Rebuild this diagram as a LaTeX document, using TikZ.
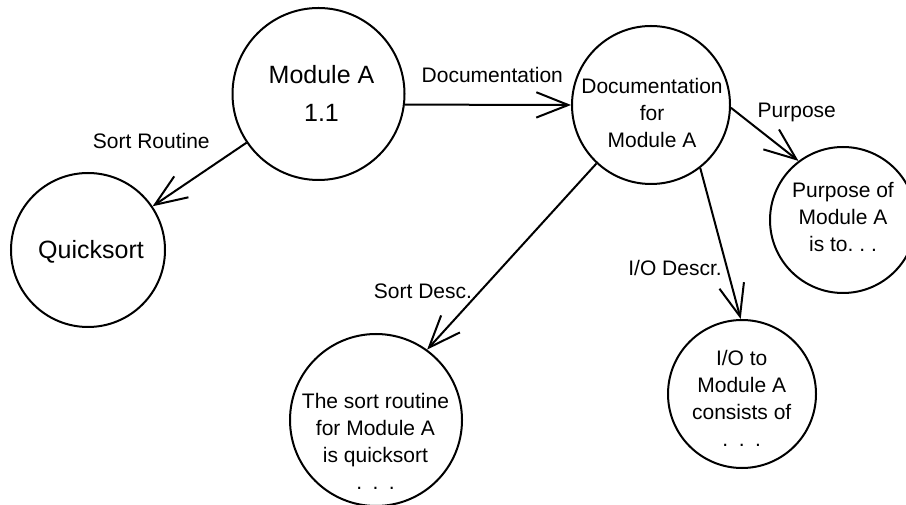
\documentclass[tikz,border=0pt]{standalone}
\usepackage{fontspec}
\setmainfont{Liberation Sans}
\usetikzlibrary{arrows.meta}
\begin{document}
\begin{tikzpicture}[x=0.75pt,y=-0.75pt,
  bub/.style={draw,circle,line width=1.5pt,inner sep=0pt},
  arr/.style={line width=1.5pt,-{Straight Barb[length=24pt,width=19pt]}},
  lbl/.style={font=\fontsize{15.75pt}{20.3pt}\selectfont,anchor=base,inner sep=0pt},
  txt/.style={lbl,align=center},
  big/.style={font=\fontsize{18.75pt}{28.7pt}\selectfont,anchor=base,inner sep=0pt,align=center}]
\useasboundingbox (0,0) rectangle (906,505);
% circles
\node[bub,minimum size=129pt]   (modA)  at (318.5,94) {};
\node[bub,minimum size=115.5pt] (quick) at (88,250) {};
\node[bub,minimum size=118.5pt] (doc)   at (651,105) {};
\node[bub,minimum size=109.5pt] (purp)  at (843,220) {};
\node[bub,minimum size=129pt]   (sortc) at (376,420) {};
\node[bub,minimum size=111pt]   (ioc)   at (742,394) {};
% circle texts (anchored at the baseline of the last line)
\node[big] (modAt)  at (321.5,121.7) {Module A\\1.1};
\node[big] (quickt) at (91,258.3) {Quicksort};
\node[txt] (doct)   at (652,147.7) {Documentation\\for\\Module A};
\node[txt] (purpt)  at (843,251.7) {Purpose of\\Module A\\is to.\ .\ .};
\node[txt] (sortt)  at (375.5,489.3) {The sort routine\\for Module A\\is quicksort\\.\hspace{0.5em}.\hspace{0.5em}.};
\node[txt] (iot)    at (741.7,446.5) {I/O to\\Module A\\consists of\\.\hspace{0.5em}.\hspace{0.5em}.};
% connectors
\draw[arr] (modA) -- (quick);
\draw[arr] (modA.-7.3) -- (doc.180);
\draw[arr] (doc.-2.4) -- (purp.127.8);
\draw[arr] (doc.-52) -- (ioc.91.5);
\draw[arr] (doc.-133.8) -- (sortc.54);
% connector labels
\node[lbl] (l1) at (151.3,148.3) {Sort Routine};
\node[lbl] (l2) at (492.3,82.3) {Documentation};
\node[lbl] (l3) at (796.8,117.3) {Purpose};
\node[lbl] (l4) at (675,276) {I/O Descr.};
\node[lbl] (l5) at (423,298.2) {Sort Desc.};
\end{tikzpicture}
\end{document}
